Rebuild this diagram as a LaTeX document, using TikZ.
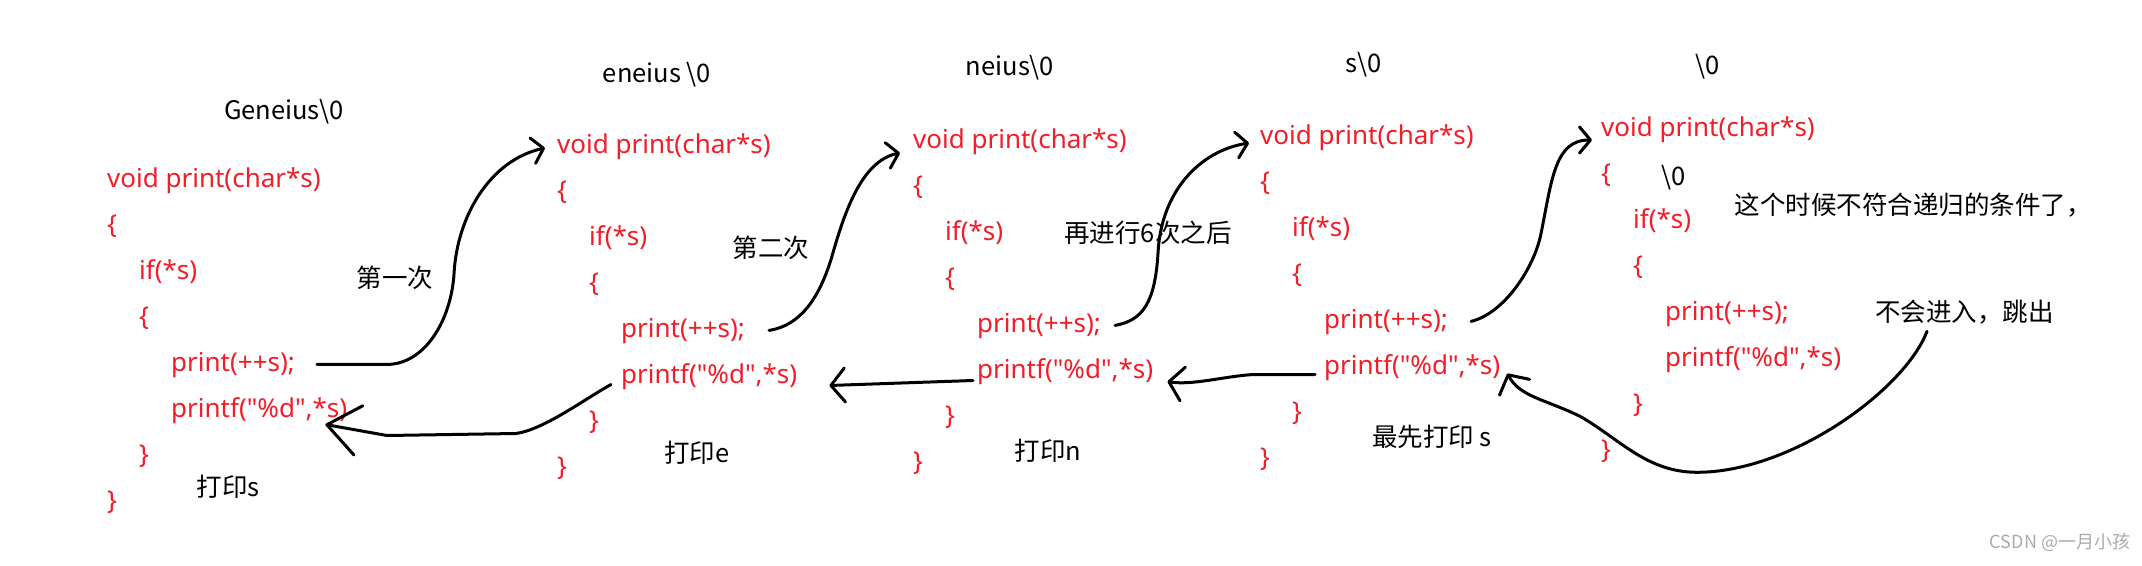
\documentclass[tikz,border=0pt]{standalone}
\usepackage{fontspec}
\usepackage{tikz}
\usetikzlibrary{positioning,arrows.meta}

\newfontfamily\codefont{Noto Sans}
\newfontfamily\cjk{Noto Sans CJK SC}
\definecolor{codered}{RGB}{240,30,40}
\definecolor{markgray}{RGB}{170,170,170}

\tikzset{
  code/.style={font={\codefont\fontsize{26pt}{26pt}\selectfont}, text=codered,
    inner sep=0pt, text height=20pt, text depth=6pt},
  label/.style={font={\cjk\fontsize{25.5pt}{25.5pt}\selectfont}, inner sep=0pt},
  hand/.style={line width=3pt, line cap=round, line join=round},
  fwd/.style={hand, -{Straight Barb[length=11pt, width=26pt, round]}},
  back/.style={hand, -{Straight Barb[length=14pt, width=34pt, round]}}
}

\begin{document}
\begin{tikzpicture}[x=1pt, y=-1pt]
        \useasboundingbox (0,0) rectangle (2142,565);

        %first call
        \node[code, anchor=west] (void_1) at (107,180) {void print(char*s)};
        \node[code] (ob_1) [below right=19.7pt and 0pt of void_1.south west] {\{};
        \node[code] (if_1) [below right=19.7pt and 32pt of ob_1.south west] {if(*s)};
        \node[code] (ib_1) [below right=19.7pt and 0pt of if_1.south west] {\{};
        \node[code] (rec_1) [below right=19.7pt and 32pt of ib_1.south west] {print(++s);};
        \node[code] (pf_1) [below right=19.7pt and 0pt of rec_1.south west] {printf("\%d",*s)};
        \node[code] (ic_1) [below right=19.7pt and -32pt of pf_1.south west] {\}};
        \node[code] (cb_1) [below right=19.7pt and -32pt of ic_1.south west] {\}};

        %second call
        \node[code, anchor=west] (void_2) at (557,146) {void print(char*s)};
        \node[code] (ob_2) [below right=19.7pt and 0pt of void_2.south west] {\{};
        \node[code] (if_2) [below right=19.7pt and 32pt of ob_2.south west] {if(*s)};
        \node[code] (ib_2) [below right=19.7pt and 0pt of if_2.south west] {\{};
        \node[code] (rec_2) [below right=19.7pt and 32pt of ib_2.south west] {print(++s);};
        \node[code] (pf_2) [below right=19.7pt and 0pt of rec_2.south west] {printf("\%d",*s)};
        \node[code] (ic_2) [below right=19.7pt and -32pt of pf_2.south west] {\}};
        \node[code] (cb_2) [below right=19.7pt and -32pt of ic_2.south west] {\}};

        %third call
        \node[code, anchor=west] (void_3) at (913,141) {void print(char*s)};
        \node[code] (ob_3) [below right=19.7pt and 0pt of void_3.south west] {\{};
        \node[code] (if_3) [below right=19.7pt and 32pt of ob_3.south west] {if(*s)};
        \node[code] (ib_3) [below right=19.7pt and 0pt of if_3.south west] {\{};
        \node[code] (rec_3) [below right=19.7pt and 32pt of ib_3.south west] {print(++s);};
        \node[code] (pf_3) [below right=19.7pt and 0pt of rec_3.south west] {printf("\%d",*s)};
        \node[code] (ic_3) [below right=19.7pt and -32pt of pf_3.south west] {\}};
        \node[code] (cb_3) [below right=19.7pt and -32pt of ic_3.south west] {\}};

        %call with s\0
        \node[code, anchor=west] (void_4) at (1260,137) {void print(char*s)};
        \node[code] (ob_4) [below right=19.7pt and 0pt of void_4.south west] {\{};
        \node[code] (if_4) [below right=19.7pt and 32pt of ob_4.south west] {if(*s)};
        \node[code] (ib_4) [below right=19.7pt and 0pt of if_4.south west] {\{};
        \node[code] (rec_4) [below right=19.7pt and 32pt of ib_4.south west] {print(++s);};
        \node[code] (pf_4) [below right=19.7pt and 0pt of rec_4.south west] {printf("\%d",*s)};
        \node[code] (ic_4) [below right=19.7pt and -32pt of pf_4.south west] {\}};
        \node[code] (cb_4) [below right=19.7pt and -32pt of ic_4.south west] {\}};

        %last call with \0
        \node[code, anchor=west] (void_5) at (1601,129) {void print(char*s)};
        \node[code] (ob_5) [below right=19.7pt and 0pt of void_5.south west] {\{};
        \node[code] (if_5) [below right=19.7pt and 32pt of ob_5.south west] {if(*s)};
        \node[code] (ib_5) [below right=19.7pt and 0pt of if_5.south west] {\{};
        \node[code] (rec_5) [below right=19.7pt and 32pt of ib_5.south west] {print(++s);};
        \node[code] (pf_5) [below right=19.7pt and 0pt of rec_5.south west] {printf("\%d",*s)};
        \node[code] (ic_5) [below right=19.7pt and -32pt of pf_5.south west] {\}};
        \node[code] (cb_5) [below right=19.7pt and -32pt of ic_5.south west] {\}};

        %strings above the calls
        \node[label] (str_1) at (284,112) {Geneius\textbackslash 0};
        \node[label] (str_2) at (657,75) {eneius \textbackslash 0};
        \node[label] (str_3) at (1010,68) {neius\textbackslash 0};
        \node[label] (str_4) at (1364,65) {s\textbackslash 0};
        \node[label] (str_5) at (1708,67) {\textbackslash 0};
        \node[label] (nul_5) at (1674,178) {\textbackslash 0};

        %notes
        \node[label] (step_1) at (395,278) {第一次};
        \node[label] (step_2) at (771,248) {第二次};
        \node[label] (step_3) at (1148,233) {再进行6次之后};
        \node[label] (show_1) at (228,487) {打印s};
        \node[label] (show_2) at (697,453) {打印e};
        \node[label] (show_3) at (1048,451) {打印n};
        \node[label] (show_4) at (1432,437) {最先打印 s};
        \node[label] (note_5) at (1913,205) {这个时候不符合递归的条件了，};
        \node[label, anchor=west] (skip_5) at (1875,312) {不会进入，跳出};
        \node[label, font={\cjk\fontsize{18pt}{18pt}\selectfont}, text=markgray] (mark) at (2060,542) {CSDN @一月小孩};

        %1 calls 2
        \draw[fwd] ([xshift=22]rec_1.east) -- ++(70,0) .. controls +(37,0) and +(-3,48) .. ++(67,-91)
            .. controls +(3,-57) and +(-55,12) .. ([shift={(-12,2)}]void_2.west);

        %2 calls 3
        \draw[fwd] ([xshift=24]rec_2.east) .. controls +(32,-5) and +(-12,38) .. ++(62,-71)
            .. controls +(12,-42) and +(-40,8) .. ([shift={(-13,12)}]void_3.west);

        %3 calls 4 after 6 more calls
        \draw[fwd] ([xshift=14]rec_3.east) .. controls +(28,-5) and +(-3,50) .. ++(43,-73)
            .. controls +(3,-60) and +(-50,8) .. ([shift={(-11,6)}]void_4.west);

        %4 calls 5
        \draw[fwd] ([xshift=23]rec_4.east) .. controls +(33,-8) and +(-7,35) .. ++(70,-88)
            .. controls +(11,-55) and +(-37,0) .. ([shift={(-9,11)}]void_5.west);

        %5 jumps out back to 4
        \draw[back] ([shift={(52,7)}]skip_5.south west) .. controls +(-22,58) and +(95,0) .. ++(-230,141)
            .. controls +(-50,0) and +(40,23) .. ++(-117,-56)
            .. controls +(-35,-17) and +(12,23) .. ([shift={(7,6)}]pf_4.east);

        %4 back to 3
        \draw[back] ([shift={(-9,7)}]pf_4.west) -- ++(-62,0) .. controls +(-30,2) and +(25,4) .. ([shift={(14,10)}]pf_3.east);

        %3 back to 2
        \draw[back] ([shift={(-4,9)}]pf_3.west) -- ([shift={(32,9)}]pf_2.east);

        %2 back to 1
        \draw[hand, -{Straight Barb[length=32pt, width=50pt, round]}] ([shift={(-10,8)}]pf_2.west)
            .. controls +(-27,15) and +(28,-4) .. ++(-95,49) -- ++(-129,2) -- ([shift={(-22,14)}]pf_1.east);
    \end{tikzpicture}
\end{document}
